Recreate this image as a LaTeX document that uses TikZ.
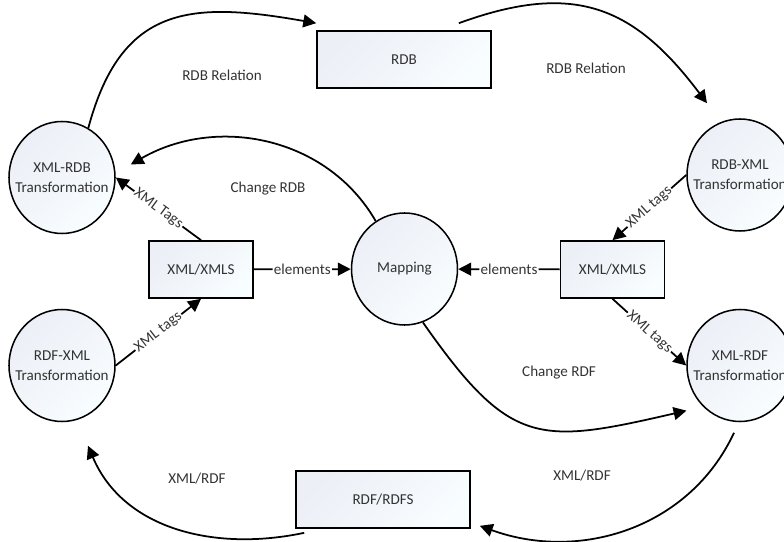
\documentclass[tikz,border=0pt]{standalone}
\usepackage{fontspec}
\setmainfont{Carlito}
\usetikzlibrary{positioning, shapes.geometric, arrows.meta}

\definecolor{fillA}{RGB}{236,239,246}
\definecolor{fillB}{RGB}{248,253,255}

\begin{document}
\begin{tikzpicture}[
    x=0.03cm, y=0.03cm,
    every node/.style={font=\fontsize{12.9}{17}\selectfont, text=black!80},
    store/.style={rectangle, draw, line width=1.4pt, minimum height=1.71cm, top color=fillA, bottom color=fillB, shading angle=45},
    process/.style={ellipse, draw, line width=1.3pt, minimum width=3.18cm, minimum height=3.36cm, top color=fillA, bottom color=fillB, shading angle=45},
    ptext/.style={align=center},
    flow/.style={-{Triangle[length=11pt,width=11pt]}, line width=1.5pt},
    tag/.style={fill=white, inner sep=1pt, sloped}
]

\useasboundingbox (0,0) rectangle (784,-542);

% Stores
\node[store, minimum width=5.22cm] (rdb) at (404,-59.5) {RDB};
\node[store, minimum width=3.12cm] (xmlsL) at (201,-269.5) {XML/XMLS};
\node[store, minimum width=3.12cm] (xmlsR) at (612.5,-269.5) {XML/XMLS};
\node[store, minimum width=5.22cm] (rdfs) at (383,-499.5) {RDF/RDFS};

% Processes
\node[process] (map) at (404.5,-269) {Mapping};
\node[process, label={[ptext]center:XML-RDB\\Transformation}] (xmlrdb) at (62,-177.5) {};
\node[process, label={[ptext]center:RDB-XML\\Transformation}] (rdbxml) at (740,-175) {};
\node[process, label={[ptext]center:RDF-XML\\Transformation}] (rdfxml) at (62,-365.5) {};
\node[process, label={[ptext]center:XML-RDF\\Transformation}] (xmlrdf) at (740,-365.5) {};

% Flow labels
\node (relL) at (222,-75) {RDB Relation};
\node (relR) at (586,-68) {RDB Relation};
\node (chRDB) at (268,-189) {Change RDB};
\node (chRDF) at (559,-373) {Change RDF};
\node (xrR) at (582,-476) {XML/RDF};
\node (xrL) at (197,-479) {XML/RDF};

% Outer loop
\draw[flow] (xmlrdb.62) to[out=75, in=170, looseness=1.3] ([yshift=2.1mm]rdb.north west);
\draw[flow] ([xshift=-9.9mm,yshift=2.1mm]rdb.north east) to[out=20, in=127, looseness=1.2] ([xshift=-9.9mm,yshift=4.5mm]rdbxml.north);
\draw[flow] ([xshift=-1.8mm,yshift=-3.15mm]xmlrdf.south) to[out=-115, in=-20] ([xshift=2.7mm,yshift=0.9mm]rdfs.south east);
\draw[flow] ([xshift=2.7mm,yshift=-1.2mm]rdfs.south west) to[out=192, in=-67] ([xshift=7.8mm,yshift=-7.05mm]rdfxml.south);

% Changes from mapping
\draw[flow] (map.121) to[out=120, in=30] ([xshift=4.5mm,yshift=3.9mm]xmlrdb.east);
\draw[flow] (map.-71) to[out=-55, in=193, looseness=1.4] ([xshift=-4.65mm,yshift=-1.5mm]xmlrdf.south west);

% Tags and elements
\draw[flow] (xmlsL.north) -- node[tag]{XML Tags} (xmlrdb.east);
\draw[flow] (rdbxml.west) -- node[tag]{XML tags} (xmlsR.north);
\draw[flow] (rdfxml.east) -- node[tag]{XML tags} (xmlsL.south);
\draw[flow] (xmlsR.south) -- node[tag]{XML tags} (xmlrdf.west);
\draw[flow] (xmlsL) -- node[tag]{elements} (map);
\draw[flow] (xmlsR) -- node[tag]{elements} (map);

\end{tikzpicture}
\end{document}
